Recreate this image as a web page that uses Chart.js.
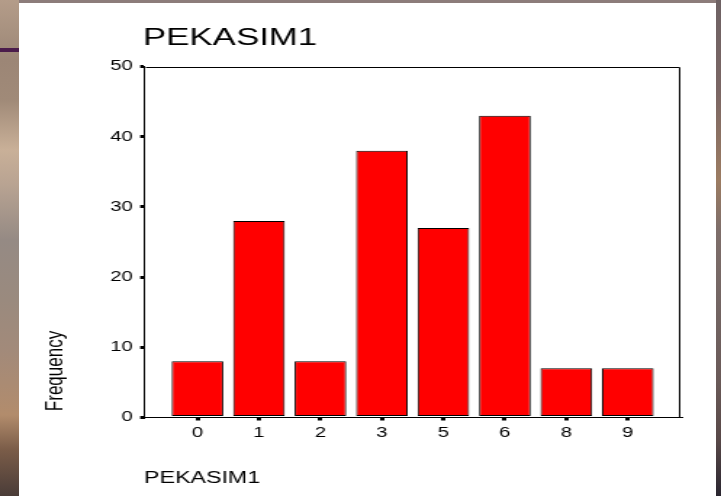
<!DOCTYPE html>
<html>
<head>
<meta charset="utf-8">
<script src="https://cdn.jsdelivr.net/npm/chart.js@4.4.1/dist/chart.umd.min.js"></script>
<style>
  html, body { margin: 0; padding: 0; }
  body {
    width: 721px; height: 496px; overflow: hidden; position: relative;
    background: linear-gradient(180deg, #b49c89 0px, #a89280 30px, #9c8676 60px, #a08a78 100px,
      #c9b098 150px, #b8a392 185px, #958a84 240px, #9a8a7e 300px, #a28a7a 350px,
      #b28c6c 415px, #7a5c48 450px, #4a3c38 496px);
  }
  #rightStrip { position: absolute; left: 716px; top: 0; width: 5px; height: 496px;
    background: linear-gradient(180deg, #6e6264 0px, #7a6664 90px, #9c7c62 180px, #7e6e6a 230px,
      #746664 300px, #6a5a58 380px, #584848 440px, #2a2630 496px); }
  #topStrip { position: absolute; left: 19px; top: 0; width: 697px; height: 3px; background: #8c7c7a; }
  #purple { position: absolute; left: 0; top: 48px; width: 19px; height: 4px; background: #4b1c4b; }
  #panel { position: absolute; left: 19px; top: 3px; width: 697px; height: 493px; background: #ffffff; }
  #c { position: absolute; left: 0; top: 0; width: 497px; height: 496px;
    transform: scaleX(1.450704); transform-origin: 0 0; }
</style>
</head>
<body>
<div id="rightStrip"></div>
<div id="topStrip"></div>
<div id="purple"></div>
<div id="panel"></div>
<canvas id="c" width="497" height="496"></canvas>
<script>
// ---- data ----
const categories = ['0', '1', '2', '3', '5', '6', '8', '9'];
const frequencies = [8, 28, 8, 38, 27, 43, 7, 7];
const yTickValues = [0, 10, 20, 30, 40, 50];
const chartTitle = 'PEKASIM1';
const xAxisLabel = 'PEKASIM1';
const yAxisLabel = 'Frequency';

const FONT = '"Liberation Sans", Arial, Helvetica, sans-serif';
Chart.defaults.font.family = FONT;
Chart.defaults.color = '#000';

const deco = {
  id: 'deco',
  afterDatasetsDraw(chart) {
    const { ctx, chartArea: a } = chart;
    ctx.save();
    ctx.strokeStyle = '#000';
    ctx.lineWidth = 1;
    const l = Math.round(a.left) + 0.5, r = Math.round(a.right) - 0.5;
    const t = Math.round(a.top) + 0.5, b = Math.round(a.bottom) - 0.5;
    ctx.beginPath();
    ctx.moveTo(l, t); ctx.lineTo(r, t); ctx.lineTo(r, b);
    ctx.stroke();
    ctx.restore();
  },
  afterDraw(chart) {
    const { ctx, chartArea: a } = chart;
    ctx.save();
    ctx.fillStyle = '#000';
    ctx.textBaseline = 'alphabetic';
    ctx.textAlign = 'left';
    ctx.font = '24px ' + FONT;
    ctx.fillText(chartTitle, a.left - 1, 44.5);
    ctx.font = '16px ' + FONT;
    ctx.fillText(xAxisLabel, a.left - 0.3, 483);
    ctx.translate(43.4, 371);
    ctx.rotate(-Math.PI / 2);
    ctx.textAlign = 'center';
    ctx.font = '17px ' + FONT;
    ctx.fillText(yAxisLabel, 0, 0);
    ctx.restore();
  }
};

new Chart(document.getElementById('c'), {
  type: 'bar',
  data: {
    datasets: [{
      data: frequencies.map((v, i) => ({ x: i, y: v })),
      backgroundColor: '#ff0000',
      borderColor: '#000000',
      borderWidth: 1,
      borderSkipped: false,
      barPercentage: 0.84,
      categoryPercentage: 1.0
    }]
  },
  options: {
    responsive: false,
    devicePixelRatio: 1,
    animation: false,
    events: [],
    layout: { padding: { left: 59.6, right: 27.6, top: 66.5, bottom: 48.5 } },
    plugins: { legend: { display: false }, tooltip: { enabled: false }, title: { display: false } },
    scales: {
      x: {
        type: 'linear',
        bounds: 'data',
        offset: false,
        min: -0.862,
        max: 7.865,
        afterBuildTicks: axis => { axis.ticks = categories.map((c, i) => ({ value: i })); },
        afterFit: s => { s.height = 30; },
        ticks: {
          callback: v => categories[v] !== undefined ? categories[v] : '',
          font: { size: 14 },
          color: '#000',
          padding: 4,
          maxRotation: 0,
          autoSkip: false
        },
        grid: { offset: false, drawOnChartArea: false, tickLength: 3, lineWidth: 3, color: '#000' },
        border: { display: true, color: '#000', width: 1 }
      },
      y: {
        type: 'linear',
        min: 0,
        max: 50,
        afterBuildTicks: axis => { axis.ticks = yTickValues.map(v => ({ value: v })); },
        afterFit: s => { s.width = 40; },
        ticks: { font: { size: 14 }, color: '#000', padding: 5 },
        grid: { drawOnChartArea: false, tickLength: 3, lineWidth: 3, color: '#000' },
        border: { display: true, color: '#000', width: 1 }
      }
    }
  },
  plugins: [deco]
});
</script>
</body>
</html>
